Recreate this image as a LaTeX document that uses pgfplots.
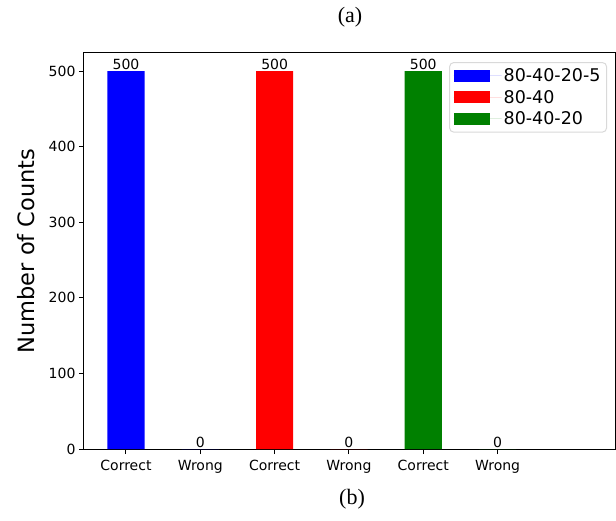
\documentclass[border=0pt]{standalone}
\usepackage{fontspec}
\setmainfont{DejaVu Sans}
\newfontfamily\timesf{Liberation Serif}
\usepackage{pgfplots}
\pgfplotsset{compat=1.18}
\definecolor{mgreen}{RGB}{0,128,0}
\begin{document}
\begin{tikzpicture}[x=1pt,y=1pt]
\path[use as bounding box] (0,0) rectangle (616,520);
\node[font=\timesf\fontsize{22}{24}\selectfont] at (350,503) {(a)};
\node[font=\timesf\fontsize{22}{24}\selectfont] at (352,21) {(b)};
\begin{axis}[at={(84pt,71pt)}, anchor=south west, scale only axis,
 width=531pt, height=396pt,
 xmin=-0.565, xmax=6.58, ymin=0, ymax=524,
 xtick={0,...,5}, xticklabels={Correct,Wrong,Correct,Wrong,Correct,Wrong},
 ytick={0,100,...,500},
 tick label style={font=\fontsize{14}{16}\selectfont},
 xticklabel shift=3pt,
 /pgf/number format/assume math mode=true,
 tick align=outside, tick pos=left, major tick length=5pt,
 axis line style={line width=1pt}, every tick/.style={line width=1pt, black},
 ylabel={Number of Counts}, ylabel style={font=\fontsize{22.5}{26}\selectfont},
 ylabel shift=7pt,
 ybar, bar width=0.5, bar shift=0pt,
 nodes near coords, nodes near coords style={font=\fontsize{14}{16}\selectfont, inner sep=1pt},
 legend style={at={(0.985,0.977)}, anchor=north east, font=\fontsize{17.5}{20}\selectfont,
   draw=black!15, rounded corners=4pt, line width=1pt, row sep=3pt, inner sep=4pt},
 legend cell align=left,
 legend image code/.code={\path[sharp corners] (0pt,0pt) -- (48pt,0pt);
   \fill[#1,draw=none,sharp corners] (0pt,-6pt) rectangle (36pt,6pt);},
]
\addplot[fill=blue, draw=none] coordinates {(0,500) (1,0)};
\addlegendentry{80-40-20-5}
\addplot[fill=red, draw=none] coordinates {(2,500) (3,0)};
\addlegendentry{80-40}
\addplot[fill=mgreen, draw=none] coordinates {(4,500) (5,0)};
\addlegendentry{80-40-20}
\end{axis}
\end{tikzpicture}
\end{document}
